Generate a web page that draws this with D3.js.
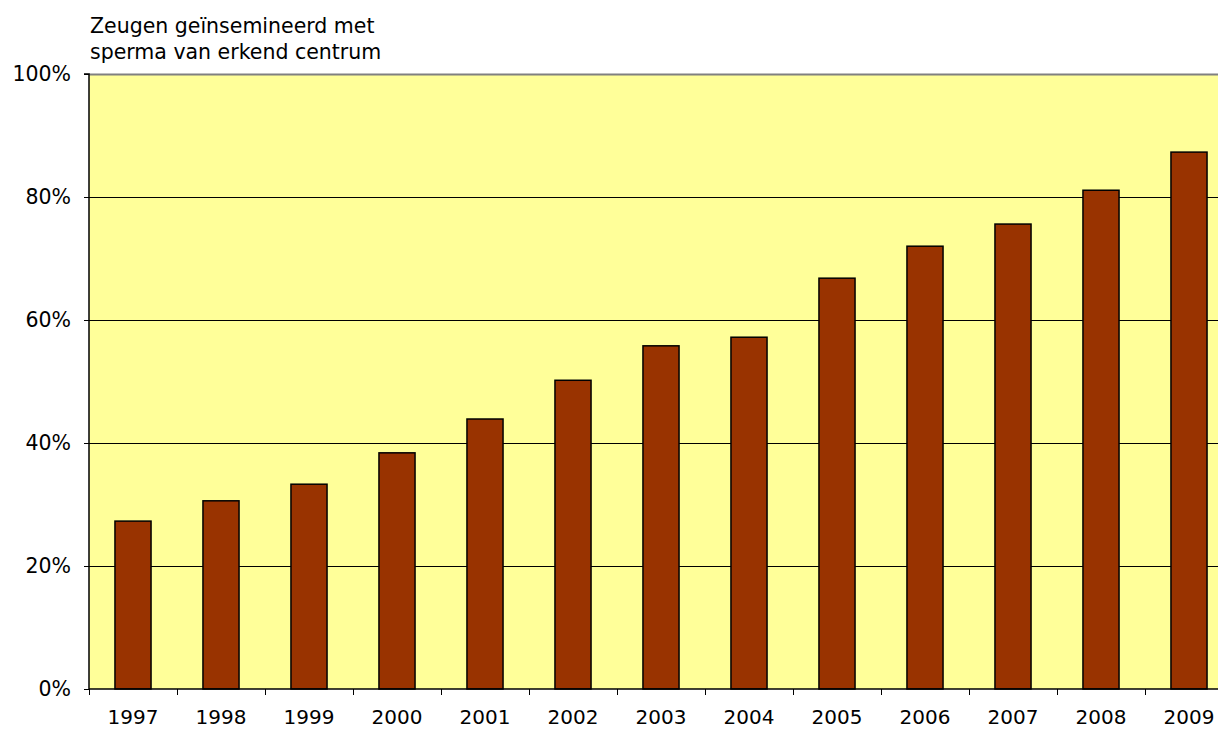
<!DOCTYPE html>
<html><head><meta charset="utf-8">
<script src="https://cdn.jsdelivr.net/npm/d3@7"></script>
<style>body{margin:0;background:#fff}svg{display:block}text{font-family:"DejaVu Sans",Verdana,sans-serif;fill:#000}</style>
</head><body>
<svg id="c" width="1218" height="729"></svg>
<script>
const years = ["1997","1998","1999","2000","2001","2002","2003","2004","2005","2006","2007","2008","2009"];
const values = [27.3,30.6,33.3,38.4,43.9,50.2,55.8,57.2,66.8,72.0,75.6,81.1,87.3];
const yTicks = [0,20,40,60,80,100];
const titleLines = ["Zeugen geïnsemineerd met","sperma van erkend centrum"];

const svg = d3.select("#c");
const L=89, R=1233, T=74, B=689;
const x = d3.scaleBand().domain(years).range([L,R]).paddingInner(0.59).paddingOuter(0.295);
const y = d3.scaleLinear().domain([0,100]).range([B,T]);

svg.append("rect").attr("x",L).attr("y",T).attr("width",R-L).attr("height",B-T).attr("fill","#FFFF99");
svg.append("line").attr("x1",L).attr("x2",R).attr("y1",T+0.5).attr("y2",T+0.5).attr("stroke","#808080").attr("stroke-width",2);
svg.selectAll(".g").data(yTicks.filter(d=>d>0&&d<100)).enter().append("line")
  .attr("x1",L).attr("x2",R).attr("y1",d=>Math.round(y(d))+0.5).attr("y2",d=>Math.round(y(d))+0.5)
  .attr("stroke","#000").attr("stroke-width",1);

svg.selectAll(".bar").data(values).enter().append("rect")
  .attr("x",(d,i)=>x(years[i])).attr("width",x.bandwidth())
  .attr("y",d=>y(d)).attr("height",d=>B-y(d))
  .attr("fill","#993300").attr("stroke","#000").attr("stroke-width",1.5);

const ya = d3.axisLeft(y).tickValues(yTicks).tickFormat(d=>d+"%").tickSize(5).tickPadding(13);
const gy = svg.append("g").attr("transform",`translate(${L},0)`).call(ya);
const xa = d3.axisBottom(d3.scalePoint().domain(d3.range(14)).range([L,L+88*13])).tickSize(6).tickFormat("");
const gx = svg.append("g").attr("transform",`translate(0,${B})`).call(xa);
[gy,gx].forEach(g=>{g.select(".domain").attr("stroke","#000").attr("stroke-width",1.5);g.selectAll(".tick line").attr("stroke","#000");});
gy.select(".domain").attr("d",`M-5,${T}H0V${B}`);
gx.select(".domain").attr("d",`M${L},0H${R}`);
gy.selectAll("text").style("font-size","20.5px").style("font-family","DejaVu Sans").attr("fill","#000");

svg.selectAll(".xl").data(years).enter().append("text")
  .attr("x",d=>x(d)+x.bandwidth()/2).attr("y",724).attr("text-anchor","middle")
  .style("font-size","20px").text(d=>d);

svg.selectAll(".t").data(titleLines).enter().append("text")
  .attr("x",90).attr("y",(d,i)=>33+i*26).style("font-size","20.5px").text(d=>d);
</script>
</body></html>
